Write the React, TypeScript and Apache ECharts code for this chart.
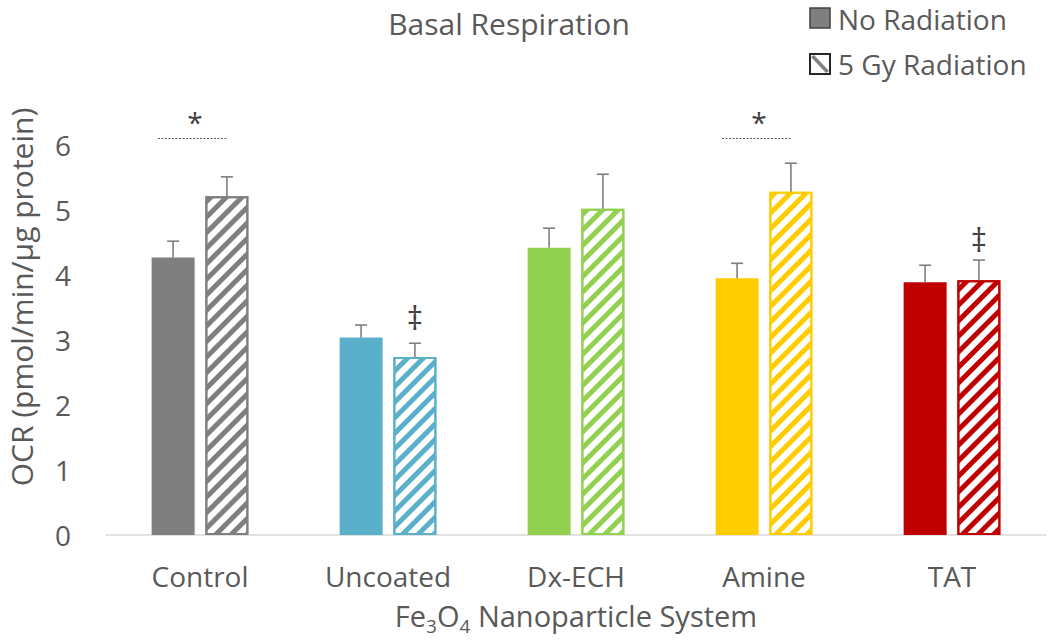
import React, { useEffect, useRef } from "react";
import * as echarts from "echarts";

const categories = ["Control", "Uncoated", "Dx-ECH", "Amine", "TAT"];
const groupColors = ["#7f7f7f", "#5aafca", "#92d050", "#ffcc00", "#c00000"];
const noRadiation = [4.27, 3.04, 4.42, 3.95, 3.89];
const noRadiationErr = [0.25, 0.19, 0.3, 0.23, 0.26];
const radiation5Gy = [5.21, 2.74, 5.02, 5.28, 3.92];
const radiation5GyErr = [0.3, 0.21, 0.53, 0.44, 0.31];
const yTicks = [0, 1, 2, 3, 4, 5, 6];
const starGroups = ["Control", "Amine"];
const starLineLevel = [6.1, 6.1];
const starTextLevel = [6.35, 6.35];
const daggerGroups = ["Uncoated", "TAT"];
const daggerLevel = [3.35, 4.54];

const TEXT = "#595959";
const FONT = "'Open Sans', 'Noto Sans', sans-serif";
const BAR_W = 43;
const OFFSET = 26.9;

export default function App() {
  const ref = useRef<HTMLDivElement>(null);
  useEffect(() => {
    if (!ref.current) return;
    const chart = echarts.init(ref.current, null, { renderer: "svg" });

    const errSeries = (vals: number[], errs: number[], off: number) => ({
      type: "custom",
      z: 5,
      silent: true,
      data: vals.map((v, i) => [i, v, v + errs[i]]),
      renderItem: (params: any, api: any) => {
        const base = api.coord([api.value(0), api.value(1)]);
        const top = api.coord([api.value(0), api.value(2)]);
        const x = base[0] + off;
        const st = { stroke: "#7f7f7f", lineWidth: 1.6 };
        return {
          type: "group",
          children: [
            { type: "line", shape: { x1: x, y1: base[1], x2: x, y2: top[1] }, style: st },
            { type: "line", shape: { x1: x - 6, y1: top[1], x2: x + 6, y2: top[1] }, style: st },
          ],
        };
      },
    });

    const option: any = {
      animation: false,
      textStyle: { fontFamily: FONT },
      grid: { left: 106, right: 4, top: 145, bottom: 106 },
      xAxis: {
        type: "category",
        data: categories,
        axisTick: { show: false },
        axisLine: { lineStyle: { color: "#d9d9d9", width: 1.5 } },
        axisLabel: { color: TEXT, fontSize: 28, lineHeight: 28, margin: 27, fontFamily: FONT },
        name: "{a|Fe}{s|3}{a|O}{s|4}{a| Nanoparticle System}",
        nameLocation: "middle",
        nameGap: 60,
        nameTextStyle: {
          color: TEXT,
          fontFamily: FONT,
          rich: {
            a: { fontSize: 29, color: TEXT, fontFamily: FONT, verticalAlign: "middle", lineHeight: 40 },
            s: { fontSize: 19, color: TEXT, fontFamily: FONT, verticalAlign: "bottom", lineHeight: 20 },
          },
        },
      },
      yAxis: {
        type: "value",
        min: yTicks[0],
        max: yTicks[yTicks.length - 1],
        interval: 1,
        splitLine: { show: false },
        axisLine: { show: false },
        axisTick: { show: false },
        axisLabel: { color: TEXT, fontSize: 28, margin: 35, fontFamily: FONT },
      },
      series: [
        {
          name: "No Radiation",
          type: "bar",
          barWidth: BAR_W,
          barGap: "25%",
          data: noRadiation.map((v, i) => ({ value: v, itemStyle: { color: groupColors[i] } })),
        },
        {
          name: "5 Gy Radiation",
          type: "bar",
          barWidth: BAR_W,
          data: radiation5Gy.map((v, i) => ({
            value: v,
            itemStyle: {
              color: "#ffffff",
              borderColor: groupColors[i],
              borderWidth: 2,
              decal: {
                symbol: "rect",
                symbolSize: 1,
                dashArrayX: [1, 0],
                dashArrayY: [4.5, 6],
                rotation: -Math.PI / 4,
                color: groupColors[i],
              },
            },
          })),
        },
        errSeries(noRadiation, noRadiationErr, -OFFSET),
        errSeries(radiation5Gy, radiation5GyErr, OFFSET),
        {
          type: "custom",
          z: 6,
          silent: true,
          clip: false,
          data: starGroups.map((g, i) => [categories.indexOf(g), starLineLevel[i], starTextLevel[i]]),
          renderItem: (params: any, api: any) => {
            const l = api.coord([api.value(0), api.value(1)]);
            const t = api.coord([api.value(0), api.value(2)]);
            return {
              type: "group",
              children: [
                {
                  type: "line",
                  shape: { x1: l[0] - 42, y1: l[1], x2: l[0] + 27, y2: l[1] },
                  style: { stroke: "#595959", lineWidth: 1, lineDash: [2, 1.5] },
                },
                {
                  type: "text",
                  x: t[0] - 5,
                  y: t[1],
                  style: {
                    text: "*",
                    fill: "#404040",
                    fontSize: 28,
                    fontFamily: FONT,
                    align: "center",
                    verticalAlign: "middle",
                  },
                },
              ],
            };
          },
        },
        {
          type: "custom",
          z: 6,
          silent: true,
          clip: false,
          data: daggerGroups.map((g, i) => [categories.indexOf(g), daggerLevel[i]]),
          renderItem: (params: any, api: any) => {
            const p = api.coord([api.value(0), api.value(1)]);
            return {
              type: "text",
              x: p[0] + OFFSET,
              y: p[1],
              style: {
                text: "‡",
                fill: "#404040",
                fontSize: 32,
                fontFamily: FONT,
                align: "center",
                verticalAlign: "middle",
              },
            };
          },
        },
      ],
      graphic: [
        {
          type: "text",
          style: {
            text: "Basal Respiration",
            fill: TEXT,
            fontSize: 30,
            fontFamily: FONT,
            x: 509,
            y: 23,
            align: "center",
            verticalAlign: "middle",
          },
        },
        {
          type: "text",
          x: 21,
          y: 297,
          rotation: Math.PI / 2,
          style: {
            text: "OCR (pmol/min/µg protein)",
            fill: TEXT,
            fontSize: 30,
            fontFamily: FONT,
            align: "center",
            verticalAlign: "middle",
          },
        },
        {
          type: "rect",
          shape: { x: 810, y: 8, width: 20, height: 20 },
          style: { fill: "#7f7f7f", stroke: "#404040", lineWidth: 1.5 },
        },
        {
          type: "text",
          style: {
            text: "No Radiation",
            x: 838,
            y: 19,
            fill: TEXT,
            fontSize: 28,
            fontFamily: FONT,
            verticalAlign: "middle",
          },
        },
        {
          type: "rect",
          shape: { x: 810, y: 54, width: 20, height: 20 },
          style: { fill: "#ffffff", stroke: "#262626", lineWidth: 2 },
        },
        {
          type: "polygon",
          shape: { points: [[811, 57], [814, 55], [829, 71], [826, 73]] },
          style: { fill: "#7f7f7f" },
        },
        {
          type: "text",
          style: {
            text: "5 Gy Radiation",
            x: 838,
            y: 64,
            fill: TEXT,
            fontSize: 28,
            fontFamily: FONT,
            verticalAlign: "middle",
          },
        },
      ],
    };
    chart.setOption(option);
    return () => chart.dispose();
  }, []);
  return (
    <div
      ref={ref}
      style={{ position: "absolute", left: 0, top: 0, width: 1050, height: 641, background: "#fff" }}
    />
  );
}
